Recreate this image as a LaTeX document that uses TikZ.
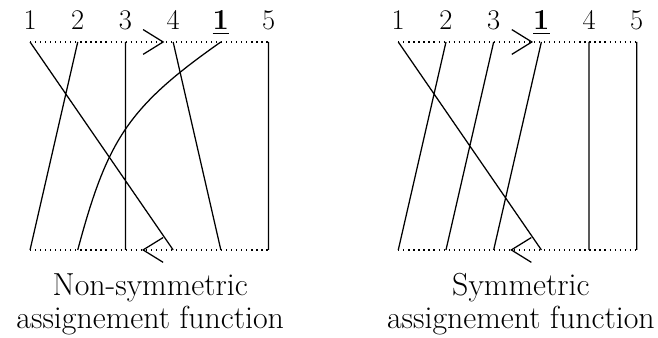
\documentclass[tikz,border=0pt]{standalone}
\usepackage{amsmath,amssymb}
\usepackage{tikz}
\usetikzlibrary{positioning,calc}
\tikzset{
  perm/.style={line width=0.75pt,draw=black},
  rail/.style={line width=0.75pt,dash pattern=on 0.7pt off 2.3pt},
  chev/.style={line width=0.75pt,draw=black},
  lab/.style={font=\fontsize{17}{19}\selectfont,anchor=base,inner sep=0pt},
  capt/.style={font=\fontsize{19}{19.5}\selectfont,align=center,anchor=base,inner sep=0pt},
}

\begin{document}
\begin{tikzpicture}
  \useasboundingbox (0,0) rectangle (13.795,-7.086);
  % non-symmetric
  \foreach \ix/\xx/\txt in {1/0.63/1,2/1.63/2,3/2.63/3,4/3.63/4,5/4.63/{$\underline{\mathbf{1}}$},6/5.63/5} {
    \coordinate (at\ix) at (\xx,-0.88);
    \coordinate (ab\ix) at (\xx,-5.24);
    \node[lab] (al\ix) at (\xx,-0.61) {\txt};
  }
  \draw[rail] (at1) -- (at6);
  \draw[rail] (ab1) -- (ab6);
  \coordinate (atip) at (3.42,-0.88);
  \coordinate (abot) at (3.00,-5.24);
  \draw[chev] ($(atip)+(-0.42,0.26)$) -- (atip) -- ($(atip)+(-0.42,-0.26)$);
  \draw[chev] ($(abot)+(0.42,0.26)$) -- (abot) -- ($(abot)+(0.42,-0.26)$);
  \draw[perm] (at1) -- (ab4) (at2) -- (ab1) (at3) -- (ab3) (at4) -- (ab5) (at6) -- (ab6);
  \draw[perm] (at5) to[out=-145,in=75,looseness=1.15] (ab2);
  \node[capt] (acap) at (3.15,-6.88) {Non-symmetric\\assignement function};
  % symmetric
  \foreach \ix/\xx/\txt in {1/8.35/1,2/9.35/2,3/10.35/3,4/11.35/{$\underline{\mathbf{1}}$},5/12.35/4,6/13.35/5} {
    \coordinate (bt\ix) at (\xx,-0.88);
    \coordinate (bb\ix) at (\xx,-5.24);
    \node[lab] (bl\ix) at (\xx,-0.61) {\txt};
  }
  \draw[rail] (bt1) -- (bt6);
  \draw[rail] (bb1) -- (bb6);
  \coordinate (btip) at (11.15,-0.88);
  \coordinate (bbot) at (10.72,-5.24);
  \draw[chev] ($(btip)+(-0.42,0.26)$) -- (btip) -- ($(btip)+(-0.42,-0.26)$);
  \draw[chev] ($(bbot)+(0.42,0.26)$) -- (bbot) -- ($(bbot)+(0.42,-0.26)$);
  \draw[perm] (bt1) -- (bb4) (bt2) -- (bb1) (bt3) -- (bb2) (bt4) -- (bb3) (bt5) -- (bb5) (bt6) -- (bb6);
  \node[capt] (bcap) at (10.92,-6.88) {Symmetric\\assignement function};
\end{tikzpicture}
\end{document}
